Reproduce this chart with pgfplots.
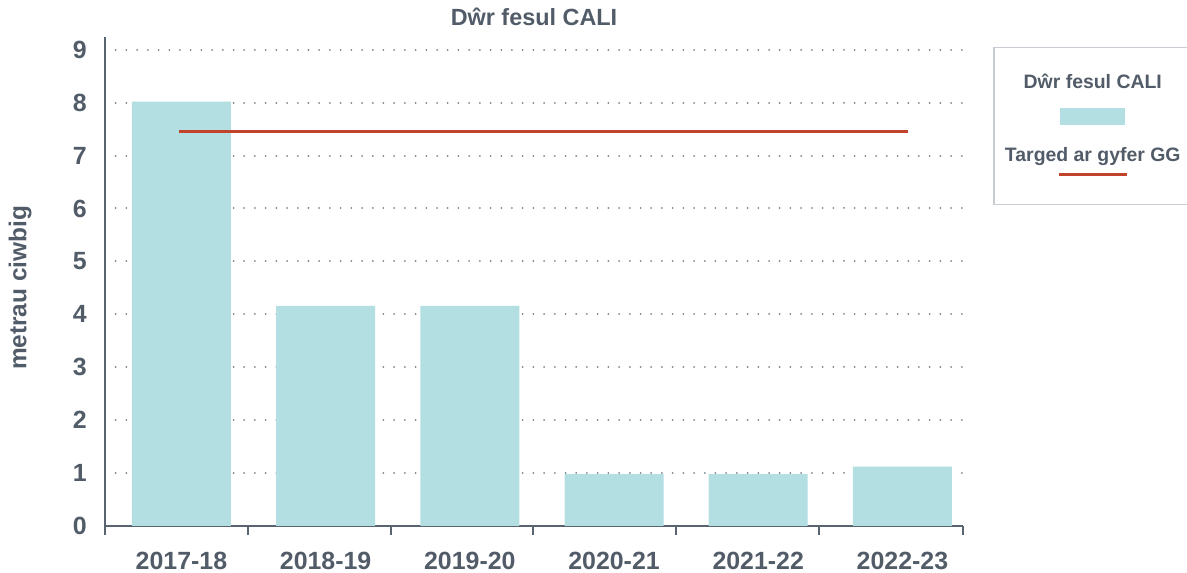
\documentclass[border=0pt]{standalone}
\usepackage{fontspec}
\setmainfont{Liberation Sans}
\usepackage{pgfplots}
\pgfplotsset{compat=1.18}
\definecolor{txtc}{HTML}{525C68}
\definecolor{axc}{HTML}{5A6470}
\definecolor{gridc}{HTML}{7A848F}
\definecolor{barc}{HTML}{B3DFE2}
\definecolor{linec}{HTML}{C1432B}
\definecolor{legc}{HTML}{C8CDD3}
\begin{document}
\begin{tikzpicture}
\begin{axis}[
  at={(0,0)}, anchor=south west,
  scale only axis, width=858bp, height=489bp,
  xmin=-0.53, xmax=5.42, ymin=0, ymax=9.24,
  axis x line*=bottom, axis y line*=left,
  axis line style={draw=axc, line width=2bp},
  xtick={0,...,5},
  xticklabels={2017-18,2018-19,2019-20,2020-21,2021-22,2022-23},
  minor xtick={-0.53,0.46,1.45,2.44,3.43,4.42,5.42},
  ytick={0,...,9},
  major tick length=0pt,
  minor tick length=9bp,
  tick align=outside,
  minor tick style={draw=axc, line width=2bp},
  ymajorgrids,
  grid style={draw=gridc, line width=2bp, line cap=round, dash pattern=on 0.01bp off 10.7bp},
  /pgf/number format/assume math mode=true,
  ticklabel style={font=\bfseries\fontsize{25}{25}\selectfont, text=txtc, inner sep=0pt},
  xticklabel style={anchor=north, yshift=-26bp},
  yticklabel style={anchor=east, xshift=-18bp},
  title={Dŵr fesul CALI},
  title style={at={(axis description cs:0.5,1.0245)}, anchor=base, yshift=-6pt, font=\bfseries\fontsize{23.5}{24}\selectfont, text=txtc, inner sep=0pt},
  ylabel={metrau ciwbig},
  ylabel style={at={(axis description cs:-0.099,0.487)}, anchor=center, font=\bfseries\fontsize{24.5}{25}\selectfont, text=txtc},
  legend style={at={(axis description cs:1.035,0.9796)}, anchor=north west, draw=legc, line width=1.5bp, inner sep=0pt, row sep=0pt, column sep=0pt, font=\bfseries\fontsize{19.5}{21}\selectfont, text=txtc, nodes={inner sep=0pt}},
]
\addplot[ybar, bar width=99bp, fill=barc, draw=none, forget plot] coordinates {
  (0,8.02) (1,4.16) (2,4.16) (3,0.98) (4,0.98) (5,1.12)
};
\addplot[linec, line width=2.8bp, forget plot] coordinates {
  (-0.02,7.45) (5.04,7.45)
};
\addlegendimage{empty legend}
\addlegendentry{\vbox{\offinterlineskip\hsize=198bp
  \hbox to\hsize{\hfil\rule{0pt}{41bp}\smash{Dŵr fesul CALI}\hfil}
  \vskip 19bp
  \hbox to\hsize{\hfil\textcolor{barc}{\rule{65bp}{17bp}}\hfil}
  \hbox to\hsize{\hfil\rule{0pt}{37bp}\smash{Targed ar gyfer GG}\hfil}
  \vskip 11.5bp
  \hbox to\hsize{\hfil\textcolor{linec}{\rule{68bp}{3bp}}\hfil}
  \vskip 27bp}}
\end{axis}
\pgfresetboundingbox
\useasboundingbox (-105bp,-47bp) rectangle (1082bp,526bp);
\end{tikzpicture}
\end{document}
